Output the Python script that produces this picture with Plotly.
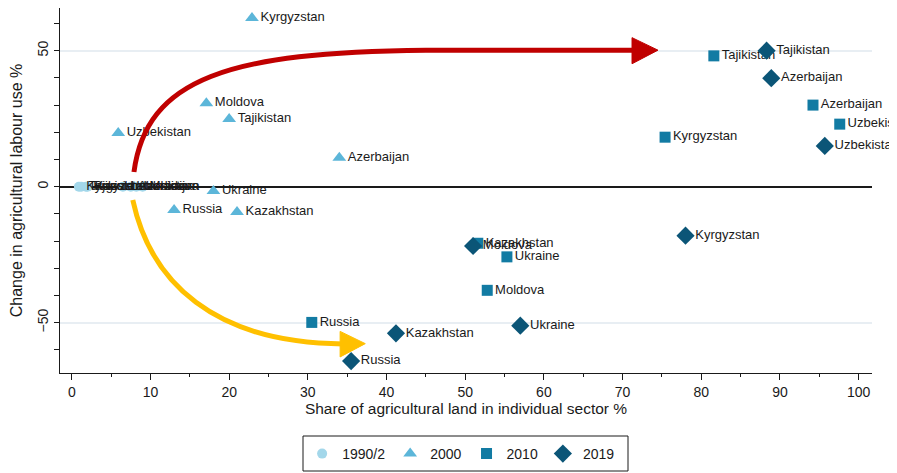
import plotly.graph_objects as go

# 1990/2 baseline: everyone starts at zero change
c1990 = ["Kyrgyzstan", "Tajikistan", "Russia", "Kazakhstan", "Uzbekistan", "Azerbaijan", "Ukraine", "Moldova"]
x1990 = [0.9, 1.2, 1.8, 2.0, 6.5, 7.5, 8.2, 9.0]
y1990 = [0, 0, 0, 0, 0, 0, 0, 0]

c2000 = ["Kyrgyzstan", "Moldova", "Tajikistan", "Uzbekistan", "Azerbaijan", "Ukraine", "Russia", "Kazakhstan"]
x2000 = [22.9, 17.1, 20.0, 5.9, 34.0, 18.0, 13.0, 21.0]
y2000 = [62.0, 30.7, 24.9, 19.7, 10.6, -1.6, -8.6, -9.3]

c2010 = ["Tajikistan", "Azerbaijan", "Uzbekistan", "Kyrgyzstan", "Kazakhstan", "Ukraine", "Moldova", "Russia"]
x2010 = [81.6, 94.2, 97.6, 75.4, 51.6, 55.3, 52.8, 30.5]
y2010 = [48.1, 30.0, 23.0, 18.2, -20.8, -25.8, -38.1, -49.9]

c2019 = ["Tajikistan", "Azerbaijan", "Uzbekistan", "Kyrgyzstan", "Moldova", "Ukraine", "Kazakhstan", "Russia"]
x2019 = [88.3, 88.9, 95.7, 78.0, 51.0, 57.0, 41.2, 35.5]
y2019 = [50.0, 39.9, 15.0, -18.0, -21.8, -51.1, -53.9, -64.1]

FONT = "Liberation Sans, Arial, sans-serif"

fig = go.Figure()

series = [
    ("1990/2", c1990, x1990, y1990, "circle", "#a3d7ea", 10),
    ("2000", c2000, x2000, y2000, "triangle-up", "#5cb6d9", 12),
    ("2010", c2010, x2010, y2010, "square", "#127ba3", 11),
    ("2019", c2019, x2019, y2019, "diamond", "#0b5577", 14),
]
for name, labels, xs, ys, sym, col, size in series:
    fig.add_trace(
        go.Scatter(
            x=xs,
            y=ys,
            mode="markers+text",
            name=name,
            text=labels,
            textposition="middle right",
            textfont=dict(family=FONT, size=13, color="#1a1a1a"),
            marker=dict(symbol=sym, color=col, size=size, line=dict(width=0)),
            cliponaxis=False,
        )
    )

# Arrows (decorative curves drawn in data space)
fig.add_shape(
    type="path",
    path="M 7.9,5.4 C 9.5,40 20,49.5 45,50.2 L 71.5,50.2",
    line=dict(color="#c00000", width=5),
    layer="above",
)
fig.add_shape(
    type="path",
    path="M 71.2,54.8 L 74.5,50.2 L 71.2,45.2 Z",
    fillcolor="#c00000",
    line=dict(color="#c00000", width=1),
    layer="above",
)
fig.add_shape(
    type="path",
    path="M 7.75,-4.9 C 10,-35 18,-57.5 34.5,-57.8",
    line=dict(color="#ffc000", width=5),
    layer="above",
)
fig.add_shape(
    type="path",
    path="M 34.1,-53.2 L 37.3,-57.7 L 34.1,-62.6 Z",
    fillcolor="#ffc000",
    line=dict(color="#ffc000", width=1),
    layer="above",
)

# legend frame (page is offset 8px by the body margin)
PH = 365
fig.add_shape(
    type="rect",
    xref="paper",
    yref="paper",
    x0=(303 - 60) / 812,
    x1=(628 - 60) / 812,
    y0=(373 - 471) / PH,
    y1=(373 - 436) / PH,
    line=dict(color="#1a1a1a", width=1),
    layer="above",
)

fig.update_layout(
    width=889,
    height=465,
    margin=dict(l=52, r=25, t=0, b=100),
    paper_bgcolor="white",
    plot_bgcolor="white",
    font=dict(family=FONT, color="#1a1a1a"),
    showlegend=True,
    legend=dict(
        orientation="h",
        x=0.494,
        xanchor="center",
        y=(373 - 454) / PH,
        yanchor="middle",
        borderwidth=0,
        bgcolor="rgba(0,0,0,0)",
        font=dict(size=14),
        itemwidth=30,
    ),
)

fig.update_xaxes(
    range=[-1.5, 101.7],
    automargin=False,
    showgrid=False,
    zeroline=False,
    showline=True,
    linecolor="#1a1a1a",
    linewidth=1,
    ticks="outside",
    ticklen=6,
    tickcolor="#1a1a1a",
    dtick=10,
    tick0=0,
    minor=dict(dtick=5, tick0=0, ticks="outside", ticklen=3, tickcolor="#1a1a1a", showgrid=False),
    tickfont=dict(size=14),
    title=dict(text="Share of agricultural land in individual sector %", font=dict(size=15.5), standoff=4),
)
fig.update_yaxes(
    range=[-68.5, 65.7],
    automargin=False,
    showgrid=True,
    gridcolor="#e8eef3",
    gridwidth=2,
    zeroline=True,
    zerolinecolor="#1a1a1a",
    zerolinewidth=2,
    showline=True,
    linecolor="#1a1a1a",
    linewidth=1,
    ticks="outside",
    ticklen=5,
    tickcolor="#1a1a1a",
    dtick=50,
    tick0=0,
    tickangle=-90,
    minor=dict(dtick=10, tick0=0, ticks="outside", ticklen=5, tickcolor="#1a1a1a", showgrid=False),
    tickfont=dict(size=14),
    title=dict(text="Change in agricultural labour use %", font=dict(size=16), standoff=11),
)

fig.write_html("out.html")
